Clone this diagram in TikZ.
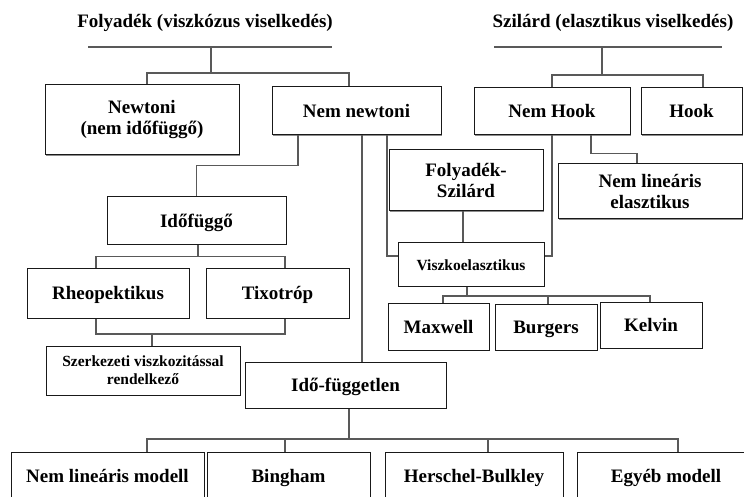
\documentclass[tikz,border=0pt]{standalone}
\usepackage{fontspec}
\setmainfont{Liberation Serif}
\usepackage{tikz}
\usetikzlibrary{shadows}
\definecolor{linegray}{rgb}{0.35,0.35,0.35}

\begin{document}
\begin{tikzpicture}[x=1pt, y=-1pt,
  box/.style={rectangle, draw=black!90, fill=white, line width=1pt, align=center, inner sep=1pt,
    general shadow={shadow xshift=1.3pt, shadow yshift=-1.3pt, fill=black!45},
    font=\fontsize{19}{21}\selectfont\bfseries},
  oneline/.style={text height=15pt, text depth=2pt},
  smallbox/.style={box, font=\fontsize{15.5}{18}\selectfont\bfseries},
  conn/.style={draw=linegray, line width=1.5pt},
  title/.style={font=\fontsize{19}{21}\selectfont\bfseries}]

  % canvas
  \useasboundingbox (0,0) rectangle (744,497);
  \clip (0,0) rectangle (744,497);

  % Titles and their bars
  \node[title] (folyt) at (205,23) {Folyadék (viszkózus viselkedés)};
  \node[title] (szil) at (613,23) {Szilárd (elasztikus viselkedés)};
  \coordinate (fl) at (88,47);
  \coordinate (fr) at (332,47);
  \coordinate (sl) at (494,47);
  \coordinate (sr) at (722,47);

  % branch points
  \coordinate (ftop) at (211,47);
  \coordinate (fbus) at (211,73);
  \coordinate (stop) at (602,47);
  \coordinate (sbus) at (602,75);
  \coordinate (vbus) at (467,296);
  \coordinate (rbus) at (152,334);
  \coordinate (ibus) at (349,439);

  % Fluid side boxes
  \node[box, minimum width=194pt, minimum height=70pt] (newt) at (142,119.5) {Newtoni\\(nem időfüggő)};
  \node[box, oneline, minimum width=169pt, minimum height=48pt] (nemnewt) at (356.5,111) {Nem newtoni};
  \node[box, oneline, minimum width=179pt, minimum height=47pt] (idof) at (196.5,220.5) {Időfüggő};
  \node[box, oneline, minimum width=162pt, minimum height=50pt] (rheo) at (108,293) {Rheopektikus};
  \node[box, oneline, minimum width=143pt, minimum height=50pt] (tixo) at (277.5,293) {Tixotróp};
  \node[smallbox, minimum width=194pt, minimum height=49pt] (szerk) at (143,370.5) {Szerkezeti viszkozitással\\rendelkező};
  \node[box, oneline, minimum width=201pt, minimum height=46pt] (idofl) at (345.5,385) {Idő-független};

  % bottom row (cut by the page edge)
  \node[box, oneline, minimum width=193pt, minimum height=48pt] (nlm) at (107.5,476) {Nem lineáris modell};
  \node[box, oneline, minimum width=163pt, minimum height=48pt] (bing) at (288.5,476) {Bingham};
  \node[box, oneline, minimum width=178pt, minimum height=48pt] (hersch) at (474,476) {Herschel-Bulkley};
  \node[box, oneline, minimum width=178pt, minimum height=48pt] (egyeb) at (666,476) {Egyéb modell};

  % Solid side boxes
  \node[box, oneline, minimum width=156pt, minimum height=47pt] (nemhook) at (552,111.5) {Nem Hook};
  \node[box, oneline, minimum width=101pt, minimum height=47pt] (hook) at (691.5,111.5) {Hook};
  \node[box, minimum width=184pt, minimum height=55pt] (nemlinel) at (650,191.5) {Nem lineáris\\elasztikus};
  \node[box, minimum width=154pt, minimum height=61pt] (folysz) at (466,180.5) {Folyadék-\\Szilárd};
  \node[smallbox, oneline, minimum width=146pt, minimum height=44pt] (viszko) at (471,264) {Viszkoelasztikus};
  \node[box, oneline, minimum width=101pt, minimum height=47pt] (maxwell) at (438.5,326.5) {Maxwell};
  \node[box, oneline, minimum width=102pt, minimum height=46pt] (burgers) at (546,327) {Burgers};
  \node[box, oneline, minimum width=102pt, minimum height=46pt] (kelvin) at (651,325) {Kelvin};

  % Title bars
  \draw[conn] (fl) -- (fr);
  \draw[conn] (sl) -- (sr);

  % Folyadek tree
  \draw[conn] (ftop) -- (fbus);
  \draw[conn] (fbus) -| ([xshift=5pt]newt.north);
  \draw[conn] (fbus) -| ([xshift=-7.5pt]nemnewt.north);
  \draw[conn] ([xshift=-58.5pt]nemnewt.south) -- ++(0,30) -| (idof.north);
  \draw[conn] ([xshift=5.5pt]nemnewt.south) coordinate (nn2) -- (nn2 |- idofl.north);
  \draw[conn] ([xshift=30.5pt]nemnewt.south) |- ([yshift=8pt]viszko.west);
  \draw[conn] ([xshift=1.5pt]idof.south) -- ++(0,12) coordinate (tbus);
  \draw[conn] (tbus) -| ([xshift=-12pt]rheo.north);
  \draw[conn] (tbus) -| ([xshift=7.5pt]tixo.north);
  \draw[conn] ([xshift=-12pt]rheo.south) |- (rbus) -| ([xshift=7.5pt]tixo.south);
  \draw[conn] (rbus) -- (rbus |- szerk.north);
  \draw[conn] ([xshift=3.5pt]idofl.south) -- (ibus);
  \draw[conn] (ibus) -| ([xshift=39.5pt]nlm.north);
  \draw[conn] (ibus) -| ([xshift=-3.5pt]bing.north);
  \draw[conn] (ibus) -| ([xshift=14pt]hersch.north);
  \draw[conn] (ibus) -| ([xshift=12pt]egyeb.north);

  % Szilard tree
  \draw[conn] (stop) -- (sbus);
  \draw[conn] (sbus) -| (nemhook.north);
  \draw[conn] (sbus) -| ([xshift=11.5pt]hook.north);
  \draw[conn] ([xshift=39pt]nemhook.south) -- ++(0,18) -| ([xshift=-13pt]nemlinel.north);
  \draw[conn] (nemhook.south) |- ([yshift=8pt]viszko.east);
  \draw[conn] ([xshift=-3pt]folysz.south) coordinate (fs) -- (fs |- viszko.north);
  \draw[conn] ([xshift=-4pt]viszko.south) -- (vbus);
  \draw[conn] (vbus) -| ([xshift=4.5pt]maxwell.north);
  \draw[conn] (vbus) -| ([xshift=2pt]burgers.north);
  \draw[conn] (vbus) -| ([xshift=-1pt]kelvin.north);

\end{tikzpicture}
\end{document}
